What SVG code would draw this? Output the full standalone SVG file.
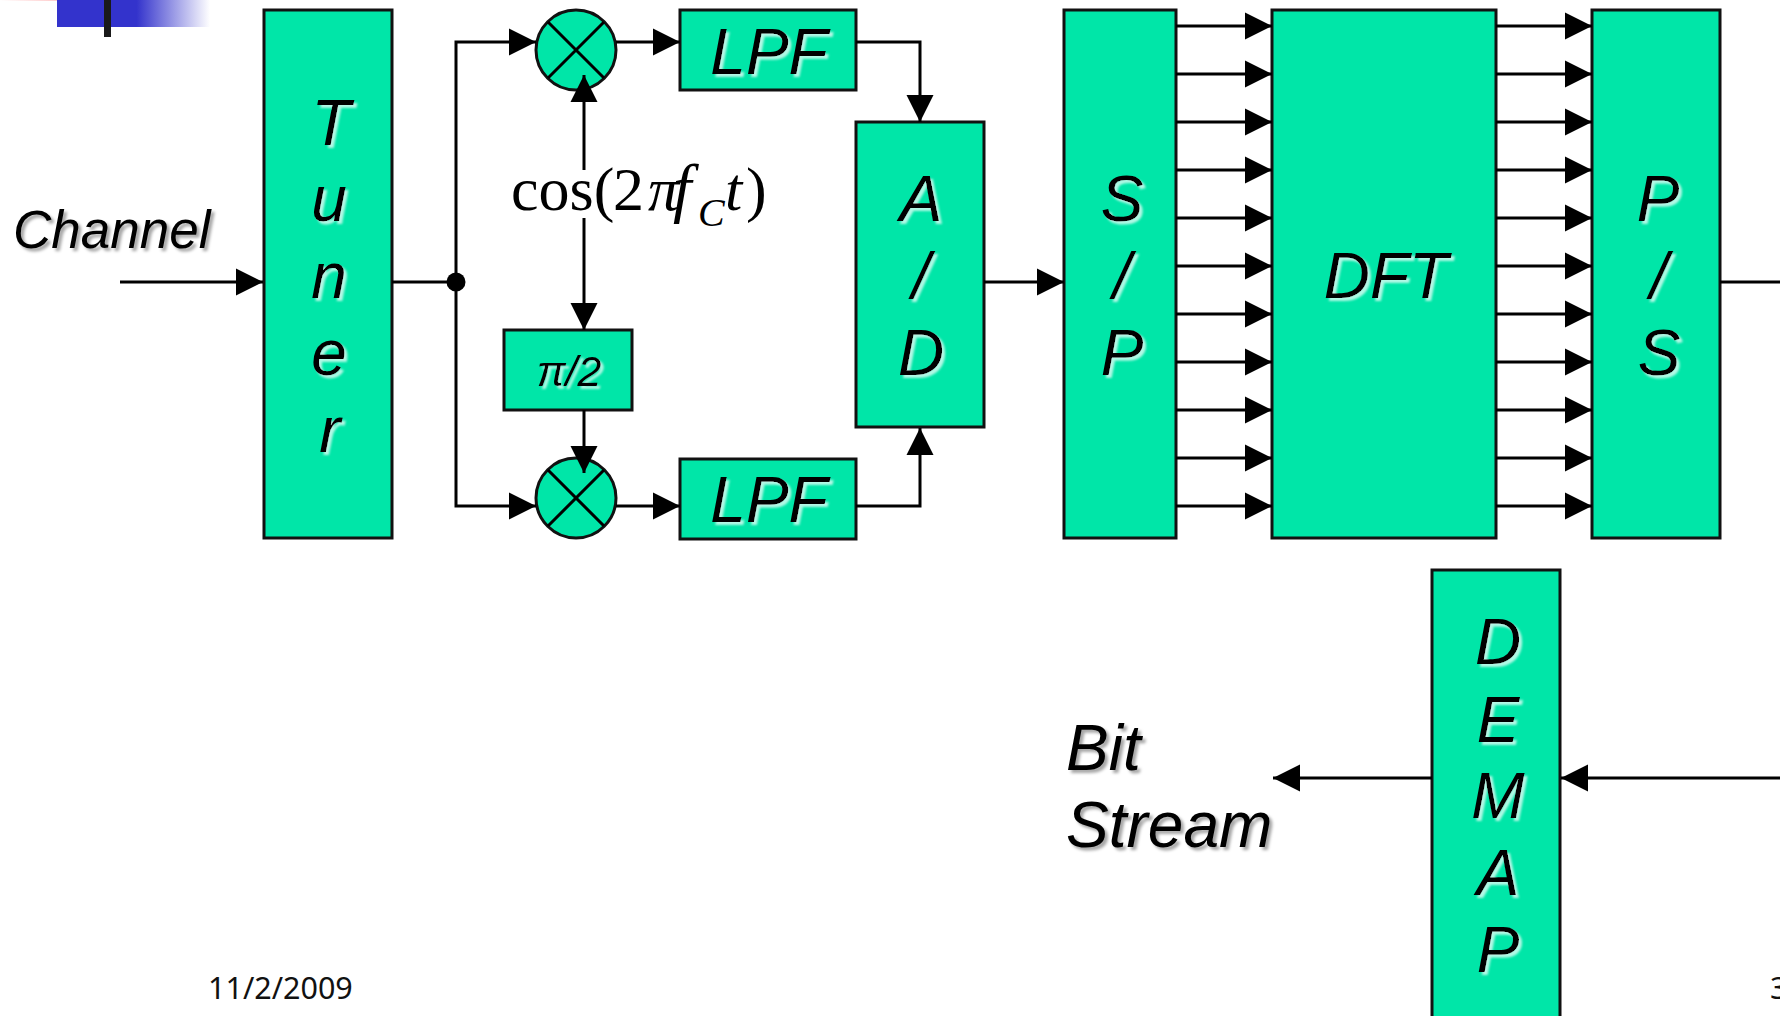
<svg xmlns="http://www.w3.org/2000/svg" width="1780" height="1016" viewBox="0 0 1780 1016">
<style>
.b{fill:#00E6A8;stroke:#111;stroke-width:3}
.l{fill:none;stroke:#000;stroke-width:3}
.t{font-family:"Liberation Sans",Arial,sans-serif;font-style:italic;font-size:64px;fill:#000;text-anchor:middle}
.in{filter:url(#sw)}
.out{filter:url(#sg)}
.s{font-family:"Liberation Serif","Times New Roman",serif;fill:#000;font-size:62px}
.i{font-style:italic}
.f{font-family:"Noto Sans",sans-serif;font-size:30.5px;fill:#111}
</style>
<defs>
<linearGradient id="g1"><stop offset="0" stop-color="#3333CC"/><stop offset="0.52" stop-color="#3333CC"/><stop offset="1" stop-color="#3333CC" stop-opacity="0"/></linearGradient>
<linearGradient id="g2"><stop offset="0" stop-color="#FFB0B0" stop-opacity="0"/><stop offset="1" stop-color="#FFB0B0"/></linearGradient>
<filter id="sw" x="-20%" y="-20%" width="150%" height="150%"><feDropShadow dx="3" dy="3" stdDeviation="1.2" flood-color="#fff" flood-opacity="0.7"/></filter>
<filter id="sg" x="-20%" y="-20%" width="150%" height="150%"><feDropShadow dx="3" dy="3" stdDeviation="1.5" flood-color="#000" flood-opacity="0.35"/></filter>
<marker id="a" markerUnits="userSpaceOnUse" markerWidth="28" markerHeight="28" refX="27" refY="14" orient="auto"><path d="M0 0.5L27 14L0 27.5Z" fill="#000"/></marker>
</defs>
<rect width="1780" height="1016" fill="#fff"/>
<g id="decor">
<rect x="0" y="0" width="89" height="1" fill="url(#g2)"/>
<rect x="57" y="0" width="153" height="27" fill="url(#g1)"/>
<rect x="104" y="0" width="7" height="37" fill="#1a1a1a"/>
</g>
<g id="tuner"><rect class="b" x="264" y="10" width="128" height="528"/>
<g class="t in"><text x="331" y="145">T</text><text x="329" y="221">u</text><text x="329" y="298">n</text><text x="329" y="375">e</text><text x="330" y="452">r</text></g></g>
<g id="mixer1"><circle class="b" cx="576" cy="50" r="40"/><path class="l" d="M548 22L604 78M604 22L548 78"/></g>
<g id="mixer2"><circle class="b" cx="576" cy="498" r="40"/><path class="l" d="M548 470L604 526M604 470L548 526"/></g>
<g id="lpf1"><rect class="b" x="680" y="10" width="176" height="80"/><text class="t in" x="769" y="74">LPF</text></g>
<g id="lpf2"><rect class="b" x="680" y="459" width="176" height="80"/><text class="t in" x="769" y="522">LPF</text></g>
<g id="phase"><rect class="b" x="504" y="330" width="128" height="80"/><text class="t in" x="569" y="386" style="font-size:43px">π/2</text></g>
<g id="adc"><rect class="b" x="856" y="122" width="128" height="305"/>
<g class="t in"><text x="921" y="221">A</text><text x="921" y="298">/</text><text x="921" y="375">D</text></g></g>
<g id="sp"><rect class="b" x="1064" y="10" width="112" height="528"/>
<g class="t in"><text x="1122" y="221">S</text><text x="1122" y="298">/</text><text x="1122" y="375">P</text></g></g>
<g id="dft"><rect class="b" x="1272" y="10" width="224" height="528"/><text class="t in" x="1386" y="298">DFT</text></g>
<g id="ps"><rect class="b" x="1592" y="10" width="128" height="528"/>
<g class="t in"><text x="1658" y="221">P</text><text x="1659" y="298">/</text><text x="1659" y="375">S</text></g></g>
<g id="demap"><rect class="b" x="1432" y="570" width="128" height="460"/>
<g class="t in"><text x="1498" y="664">D</text><text x="1498" y="742">E</text><text x="1498" y="818">M</text><text x="1498" y="895">A</text><text x="1498" y="972">P</text></g></g>
<g id="connectors">
<path class="l" marker-end="url(#a)" d="M120 282H263"/>
<path class="l" d="M392 282H456"/>
<path class="l" marker-end="url(#a)" d="M456 282V42H536"/>
<path class="l" marker-end="url(#a)" d="M456 282V506H536"/>
<path class="l" marker-end="url(#a)" d="M616 42H680"/>
<path class="l" marker-end="url(#a)" d="M616 506H680"/>
<path class="l" marker-end="url(#a)" d="M856 42H920V122"/>
<path class="l" marker-end="url(#a)" d="M856 506H920V428"/>
<path class="l" marker-end="url(#a)" d="M984 282H1064"/>
<path class="l" d="M1720 282H1780"/>
<path class="l" marker-end="url(#a)" d="M1432 778H1273"/>
<path class="l" marker-end="url(#a)" d="M1780 778H1561"/>
<path class="l" marker-end="url(#a)" d="M584 170V75"/>
<path class="l" marker-end="url(#a)" d="M584 218V330"/>
<path class="l" marker-end="url(#a)" d="M584 410V473"/>
<path class="l" marker-end="url(#a)" d="M1176 26H1272"/>
<path class="l" marker-end="url(#a)" d="M1176 74H1272"/>
<path class="l" marker-end="url(#a)" d="M1176 122H1272"/>
<path class="l" marker-end="url(#a)" d="M1176 170H1272"/>
<path class="l" marker-end="url(#a)" d="M1176 218H1272"/>
<path class="l" marker-end="url(#a)" d="M1176 266H1272"/>
<path class="l" marker-end="url(#a)" d="M1176 314H1272"/>
<path class="l" marker-end="url(#a)" d="M1176 362H1272"/>
<path class="l" marker-end="url(#a)" d="M1176 410H1272"/>
<path class="l" marker-end="url(#a)" d="M1176 458H1272"/>
<path class="l" marker-end="url(#a)" d="M1176 506H1272"/>
<path class="l" marker-end="url(#a)" d="M1496 26H1592"/>
<path class="l" marker-end="url(#a)" d="M1496 74H1592"/>
<path class="l" marker-end="url(#a)" d="M1496 122H1592"/>
<path class="l" marker-end="url(#a)" d="M1496 170H1592"/>
<path class="l" marker-end="url(#a)" d="M1496 218H1592"/>
<path class="l" marker-end="url(#a)" d="M1496 266H1592"/>
<path class="l" marker-end="url(#a)" d="M1496 314H1592"/>
<path class="l" marker-end="url(#a)" d="M1496 362H1592"/>
<path class="l" marker-end="url(#a)" d="M1496 410H1592"/>
<path class="l" marker-end="url(#a)" d="M1496 458H1592"/>
<path class="l" marker-end="url(#a)" d="M1496 506H1592"/>
<circle cx="456" cy="282" r="9.5" fill="#000"/>
</g>
<g id="labels">
<text class="t out" x="13" y="248" style="text-anchor:start;font-size:53px">Channel</text>
<g class="t out" style="text-anchor:start"><text x="1066" y="770">Bit</text><text x="1066" y="847">Stream</text></g>
<text class="s" x="511" y="210">cos(<tspan x="613">2</tspan><tspan class="i" x="648">π</tspan><tspan class="i" x="673" style="font-size:66px">f</tspan><tspan class="i" x="698" y="226" style="font-size:40px">C</tspan><tspan class="i" x="725" y="210">t</tspan><tspan x="746">)</tspan></text>
<text class="f" x="208" y="999">11/2/2009</text>
<text class="f" x="1770" y="999">3</text>
</g>
</svg>
